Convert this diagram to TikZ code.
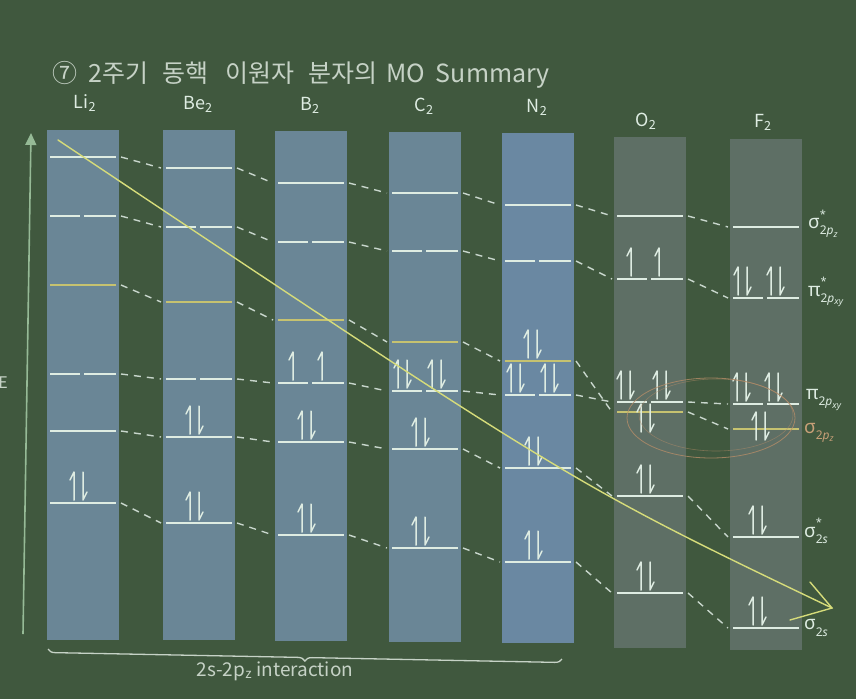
\documentclass[tikz,border=0pt]{standalone}
\usepackage{fontspec}
\setmainfont{Noto Sans CJK KR}
\newfontfamily\krfont{Noto Sans CJK KR}
\newfontfamily\grk{Noto Sans}
\usetikzlibrary{decorations.pathreplacing,arrows.meta}
\definecolor{bg}{RGB}{64,88,62}
\definecolor{colblue}{RGB}{106,134,150}
\definecolor{colblueN}{RGB}{106,136,162}
\definecolor{colgray}{RGB}{94,111,101}
\definecolor{lvl}{RGB}{222,236,226}
\definecolor{lvly}{RGB}{198,194,112}
\definecolor{dashc}{RGB}{200,214,204}
\definecolor{arrc}{RGB}{214,220,122}
\definecolor{txt}{RGB}{198,210,198}
\definecolor{ellc}{RGB}{180,140,104}
\definecolor{axisc}{RGB}{150,186,150}
\definecolor{orng}{RGB}{200,160,120}
\tikzset{
  colbox/.style={rectangle, inner sep=0pt, minimum width=72pt, anchor=north west, draw=none},
  lvlline/.style={draw=lvl, line width=2.4pt},
  ylvl/.style={draw=lvly, line width=2.2pt},
  conn/.style={draw=dashc, line width=1.4pt, dash pattern=on 7pt off 6pt},
  elec/.style={draw=lvl, line width=1.5pt, line cap=round, line join=round},
  hdr/.style={text=lvl, font=\fontsize{18}{18}\selectfont, inner sep=0pt},
  lab/.style={text=lvl, font=\grk\fontsize{19}{19}\selectfont, anchor=west, inner sep=0pt},
  yarrow/.style={draw=arrc, line width=1.4pt, line cap=round},
}
\newcommand{\eUp}[2]{\draw[elec] (#1,#2) -- ++(0,-28) -- ++(-4,8);}
\newcommand{\eDn}[2]{\draw[elec] (#1,#2-28) -- (#1,#2) -- ++(4,-8);}
\newcommand{\ePair}[2]{\eUp{#1-5}{#2}\eDn{#1+4}{#2}}
\newcommand{\lvW}[2]{\draw[lvlline] (#1+3,#2) -- (#1+69,#2);}
\newcommand{\lvS}[2]{\draw[lvlline] (#1+3,#2) -- (#1+33,#2) (#1+37,#2) -- (#1+69,#2);}
\newcommand{\lvY}[2]{\draw[ylvl] (#1+3,#2) -- (#1+69,#2);}
\newcommand{\orb}[3]{#1\rlap{\raisebox{1.0ex}{\fontsize{11}{11}\selectfont #2}}\raisebox{-0.6ex}{\fontsize{12}{12}\selectfont #3}}
\newcommand{\pz}{2\textit{p}\raisebox{-0.35ex}{\fontsize{9}{9}\selectfont\textit{z}}}
\newcommand{\pxy}{2\textit{p}\raisebox{-0.35ex}{\fontsize{9}{9}\selectfont\textit{xy}}}
\def\Ls{{47,163,275,389,502,614,730}}
\def\rA{{157,168,183,193,205,216,227}}
\def\rB{{216,227,242,251,261,279,298}}
\def\rC{{285,302,320,342,361,412,429}}
\def\rD{{374,379,383,391,395,402,404}}
\def\rE{{431,437,442,449,468,496,537}}
\def\rF{{503,523,535,548,562,593,628}}
\begin{document}
\begin{tikzpicture}[x=1pt,y=-1pt]
\fill[bg] (0,0) rectangle (856,699);
\useasboundingbox (0,0) rectangle (856,699);
% columns
\node[colbox, fill=colblue, minimum height=510pt] (cLi) at (47,130) {};
\node[colbox, fill=colblue, minimum height=510pt] (cBe) at (163,130) {};
\node[colbox, fill=colblue, minimum height=510pt] (cB) at (275,131) {};
\node[colbox, fill=colblue, minimum height=510pt] (cC) at (389,132) {};
\node[colbox, fill=colblueN, minimum height=510pt] (cN) at (502,133) {};
\node[colbox, fill=colgray, minimum height=511pt] (cO) at (614,137) {};
\node[colbox, fill=colgray, minimum height=511pt] (cF) at (730,139) {};
% headers
\node[hdr] (hLi) at (85,103) {Li\textsubscript{2}};
\node[hdr] (hBe) at (198,104) {Be\textsubscript{2}};
\node[hdr] (hB) at (310,105) {B\textsubscript{2}};
\node[hdr] (hC) at (424,106) {C\textsubscript{2}};
\node[hdr] (hN) at (537,107) {N\textsubscript{2}};
\node[hdr] (hO) at (646,121) {O\textsubscript{2}};
\node[hdr] (hF) at (763,122) {F\textsubscript{2}};
% title
\node[anchor=west, text=txt, inner sep=0pt, font=\krfont\fontsize{25}{25}\selectfont] (title) at (52,75)
  {⑦\hspace{11pt}2주기\hspace{14pt}동핵\hspace{17pt}이원자\hspace{14pt}분자의\hspace{9pt}MO\hspace{11pt}Summary};
% connectors
\foreach \r in {\rA,\rB,\rC,\rD,\rE,\rF}{
  \foreach \i in {0,...,5}{
    \pgfmathsetmacro\xa{\Ls[\i]+74}
    \pgfmathsetmacro\ya{\r[\i]}
    \pgfmathsetmacro\xb{\Ls[\i+1]-2}
    \pgfmathsetmacro\yb{\r[\i+1]}
    \draw[conn] (\xa,\ya) -- (\xb,\yb);
  }
}
% levels
\foreach \L/\a/\b/\c/\d/\e/\f in {47/157/216/285/374/431/503, 163/168/227/302/379/437/523,
  275/183/242/320/383/442/535, 389/193/251/342/391/449/548, 502/205/261/361/395/468/562,
  614/216/279/412/402/496/593, 730/227/298/429/404/537/628}{
  \lvW{\L}{\a} \lvS{\L}{\b} \lvY{\L}{\c} \lvS{\L}{\d} \lvW{\L}{\e} \lvW{\L}{\f}
}
% electrons
\ePair{79}{500}
\ePair{195}{434} \ePair{195}{520}
\eUp{293}{380} \eUp{322}{380} \ePair{307}{439} \ePair{307}{532}
\ePair{403}{388} \ePair{437}{388} \ePair{421}{446} \ePair{421}{545}
\ePair{533}{358} \ePair{516}{392} \ePair{550}{392} \ePair{534}{465} \ePair{534}{559}
\eUp{631}{276} \eUp{659}{276} \ePair{626}{399} \ePair{662}{399} \ePair{646}{432} \ePair{646}{493} \ePair{646}{590}
\ePair{743}{295} \ePair{776}{295} \ePair{742}{401} \ePair{774}{401} \ePair{761}{440} \ePair{758}{534} \ePair{758}{625}
% ellipse
\draw[ellc, line width=0.8pt, opacity=0.8] (711,418) ellipse [x radius=84, y radius=40];
\draw[ellc, line width=0.6pt, opacity=0.5] (716,415) ellipse [x radius=77, y radius=36];
% energy axis
\coordinate (eb) at (23,634);
\coordinate (et) at (31,133);
\draw[axisc, line width=1.6pt, -{Triangle[length=12pt,width=11pt]}] (eb) -- (et);
\node[text=txt, font=\fontsize{16}{16}\selectfont, inner sep=0pt] (E) at (3,383) {E};
% yellow trend arrow
\coordinate (ys) at (58,140);
\coordinate (ye) at (832,608);
\coordinate (yb1) at (810,582);
\coordinate (yb2) at (790,620);
\draw[yarrow] (ys) .. controls (573,484) .. (ye);
\draw[yarrow] (yb1) -- (ye) -- (yb2);
% labels
\node[lab] (l1) at (808,224) {\orb{σ}{*}{\pz}};
\node[lab] (l2) at (808,292) {\orb{π}{*}{\pxy}};
\node[lab] (l3) at (806,400) {\orb{π}{}{\pxy}};
\node[lab, text=orng] (l4) at (804,433) {\orb{σ}{}{\pz}};
\node[lab] (l5) at (804,531) {\orb{σ}{*}{2\textit{s}}};
\node[lab] (l6) at (804,628) {\orb{σ}{}{2\textit{s}}};
% brace
\coordinate (bl) at (48,649);
\coordinate (br) at (562,659);
\draw[txt, line width=1.3pt, decorate, decoration={brace, amplitude=7pt, mirror}] (bl) -- (br);
\node[text=txt, font=\fontsize{19}{19}\selectfont, inner sep=0pt] (bt) at (275,671)
  {2\textit{s}-2\textit{p}\textsubscript{\textit{z}} interaction};
\end{tikzpicture}
\end{document}
